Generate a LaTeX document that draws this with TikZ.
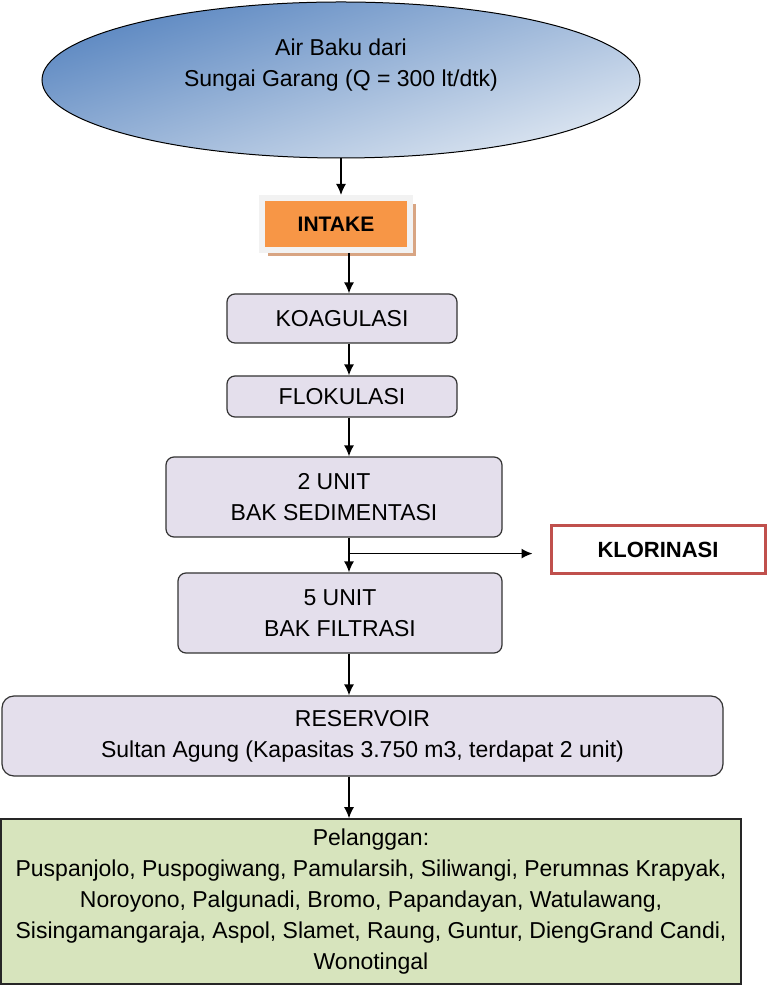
\documentclass[tikz,border=0pt]{standalone}
\usepackage{fontspec}
\setmainfont{Liberation Sans}
\usetikzlibrary{positioning, shapes.geometric, arrows.meta, shadows}

\definecolor{skyblue}{HTML}{5B87C1}
\definecolor{paleblue}{HTML}{DDE6F1}
\definecolor{intakeorange}{HTML}{F79646}
\definecolor{intakeframe}{HTML}{F2F2F2}
\definecolor{intakeshade}{HTML}{D8A583}
\definecolor{lavender}{HTML}{E4DFEC}
\definecolor{klorred}{HTML}{C0504D}
\definecolor{palegreen}{HTML}{D7E4BD}

\begin{document}
\begin{tikzpicture}[x=1pt, y=1pt,
	every node/.style={font=\fontsize{23}{31}\selectfont, align=center, inner sep=0pt},
	stage/.style={draw=black!80, line width=1.2pt, fill=lavender, rounded corners=8pt},
	arr/.style={line width=1.4pt, -{Latex[length=11pt, width=10pt]}}]
			\useasboundingbox (0,0) rectangle (767,985);
			\node[ellipse, draw, line width=1pt, top color=skyblue, bottom color=paleblue, shading angle=18,
				minimum width=598pt, minimum height=156pt] (air) at (341,905) {Air Baku dari\\Sungai Garang (Q = 300 lt/dtk)\\[4pt]};
			\node[draw=intakeframe, line width=6pt, fill=intakeorange, minimum width=148pt, minimum height=52pt,
				drop shadow={shadow xshift=6pt, shadow yshift=-6pt, fill=intakeshade, opacity=1},
				font=\fontsize{21}{31}\selectfont\bfseries] (intake) at (336,761) {INTAKE};
			\node[stage, minimum width=230pt, minimum height=49pt] (koag) at (342,666.5) {KOAGULASI};
			\node[stage, minimum width=230pt, minimum height=41pt] (flok) at (342,588.5) {FLOKULASI};
			\node[stage, minimum width=336pt, minimum height=80pt] (sedi) at (334,488) {2 UNIT\\BAK SEDIMENTASI};
			\node[stage, minimum width=324pt, minimum height=80pt] (filt) at (340,372) {5 UNIT\\BAK FILTRASI};
			\node[draw=klorred, line width=3pt, fill=white, minimum width=214pt, minimum height=48pt,
				font=\fontsize{22}{31}\selectfont\bfseries] (klor) at (658,435.5) {KLORINASI};
			\node[stage, rounded corners=12pt, minimum width=721pt, minimum height=80pt] (resv) at (362.5,249) {RESERVOIR\\Sultan Agung (Kapasitas 3.750 m3, terdapat 2 unit)};
			\node[draw=black!85, line width=1.5pt, fill=palegreen, minimum width=740pt, minimum height=165pt] (pel) at (371,83.5)
				{Pelanggan:\\Puspanjolo, Puspogiwang, Pamularsih, Siliwangi, Perumnas Krapyak,\\Noroyono, Palgunadi, Bromo, Papandayan, Watulawang,\\Sisingamangaraja, Aspol, Slamet, Raung, Guntur, DiengGrand Candi,\\Wonotingal};
			\coordinate (spine) at (349,0);
			\draw[arr] (air.south) -- (intake.north -| air.south);
			\draw[arr] (intake.south -| spine) -- (koag.north -| spine);
			\draw[arr] (koag.south -| spine) -- (flok.north -| spine);
			\draw[arr] (flok.south -| spine) -- (sedi.north -| spine);
			\draw[arr] (sedi.south -| spine) -- (filt.north -| spine);
			\draw[arr] (sedi.south -| spine) ++(0,-16) coordinate (split) -- (split -| klor.west) [shorten >=17pt];
			\draw[arr] (filt.south -| spine) -- (resv.north -| spine);
			\draw[arr] (resv.south -| spine) -- (pel.north -| spine);
		\end{tikzpicture}
\end{document}
